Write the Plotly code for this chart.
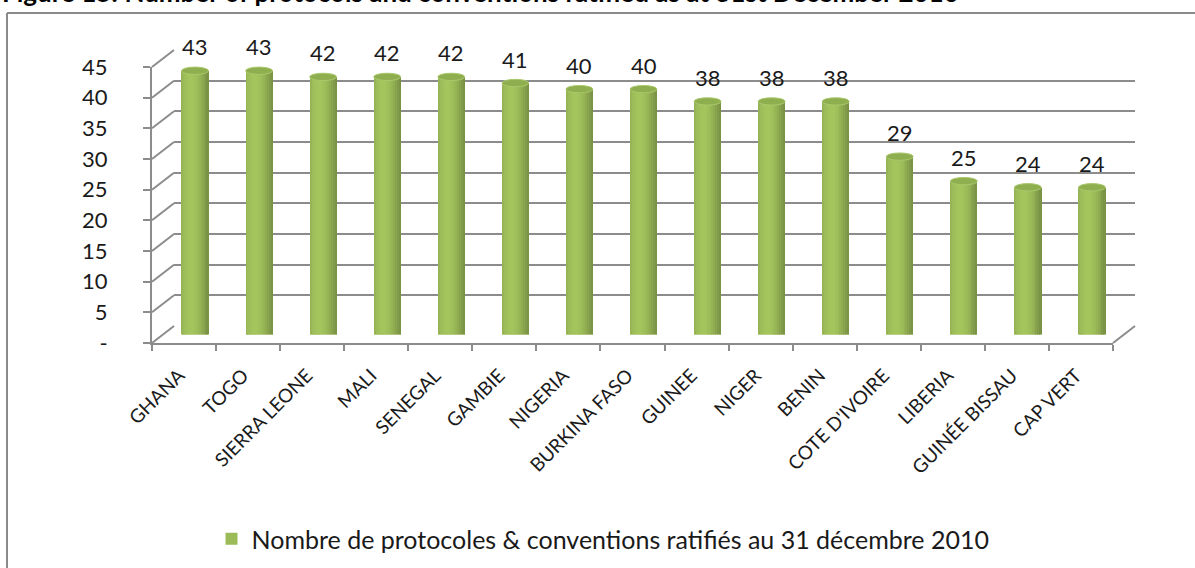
import math
import plotly.graph_objects as go

# ---- data ----
countries = ["GHANA", "TOGO", "SIERRA LEONE", "MALI", "SENEGAL", "GAMBIE", "NIGERIA",
             "BURKINA FASO", "GUINEE", "NIGER", "BENIN", "COTE D'IVOIRE", "LIBERIA",
             "GUINÉE BISSAU", "CAP VERT"]
ratified = [43, 43, 42, 42, 42, 41, 40, 40, 38, 38, 38, 29, 25, 24, 24]
y_ticks = [0, 5, 10, 15, 20, 25, 30, 35, 40, 45]
y_tick_text = ["-", "5", "10", "15", "20", "25", "30", "35", "40", "45"]
series_name = "Nombre de protocoles & conventions ratifiés au 31 décembre 2010"
title_text = "Figure 15: Number of protocols and conventions ratified as at 31st December 2010"

# ---- layout geometry (pixels) ----
W, H = 1195, 568
FX0, FX1 = 152, 1113          # front plane, horizontal extent
FY0, FYT = 343, 67            # front plane, y of 0 and of top value
DX, DY = 22, -17              # depth offset to the back wall
YMAX = 45
FONT = "Lato"
GRID = "#8c8c8c"
BASE_GREEN = (158, 190, 90)


def px(x):
    return x / W


def py(y):
    return 1 - y / H


def plane(frac):
    """Domains of a plane placed at a fraction of the depth."""
    x0, x1 = FX0 + DX * frac, FX1 + DX * frac
    y0, yt = FY0 + DY * frac, FYT + DY * frac
    return [px(x0), px(x1)], [py(y0), py(yt)]


idx = list(range(len(countries)))
fig = go.Figure()

# back wall: horizontal grid lines
bx, by = plane(1.0)
fig.add_trace(go.Scatter(x=idx, y=ratified, mode="markers", marker=dict(opacity=0),
                         showlegend=False, hoverinfo="skip", xaxis="x", yaxis="y"))

# front axes: tick marks and labels
fx, fy = plane(0.0)
fig.add_trace(go.Scatter(x=countries, y=ratified, mode="markers", marker=dict(opacity=0),
                         showlegend=False, hoverinfo="skip", xaxis="x2", yaxis="y2"))

# cylinders at mid depth
mx, my = plane(0.5)
BAR_W = 0.42
EH = 0.6                      # half height of the cylinder ends (data units)
N_STRIPS = 14
sw = BAR_W / N_STRIPS

fig.add_trace(go.Bar(x=idx, y=ratified, width=BAR_W, name=series_name,
                     marker=dict(color="rgb(155,187,89)", line=dict(width=0)),
                     xaxis="x3", yaxis="y3", hoverinfo="skip"))


def shade(u):
    f = 0.80 + 0.24 * math.cos((u + 0.3) * math.pi / 2.3)
    r, g, b = (min(255, int(c * f)) for c in BASE_GREEN)
    return f"rgb({r},{g},{b})"


for k in range(N_STRIPS):
    u = -1 + (2 * k + 1) / N_STRIPS
    d = EH * math.sqrt(max(0.0, 1 - u * u))
    fig.add_trace(go.Bar(
        x=idx, y=[v + d for v in ratified], base=[-d] * len(ratified),
        width=sw * 1.15, offset=-BAR_W / 2 + k * sw - sw * 0.05,
        marker=dict(color=shade(u), line=dict(width=0)),
        showlegend=False, hoverinfo="skip", xaxis="x3", yaxis="y3"))

shapes = []
annotations = []
# top faces and value labels
for i, v in zip(idx, ratified):
    shapes.append(dict(type="circle", xref="x3", yref="y3",
                       x0=i - BAR_W / 2, x1=i + BAR_W / 2, y0=v - EH, y1=v + EH,
                       fillcolor="#8fae50", line=dict(color="#a9c96b", width=1),
                       layer="above"))
    annotations.append(dict(xref="x3", yref="y3", x=i, y=v, text=str(v),
                            showarrow=False, yshift=24, yanchor="middle",
                            font=dict(family=FONT, size=22, color="#1a1a1a")))

# side wall diagonals for every grid value, and the floor's right edge
for t in y_ticks:
    yf = FY0 - (FY0 - FYT) * t / YMAX
    shapes.append(dict(type="line", xref="paper", yref="paper",
                       x0=px(FX0), y0=py(yf), x1=px(FX0 + DX), y1=py(yf + DY),
                       line=dict(color=GRID, width=2)))
shapes.append(dict(type="line", xref="paper", yref="paper",
                   x0=px(FX1), y0=py(FY0), x1=px(FX1 + DX), y1=py(FY0 + DY),
                   line=dict(color=GRID, width=2)))

# outer frame (top and left edges inside the page)
shapes.append(dict(type="line", xref="paper", yref="paper",
                   x0=px(7), x1=1.0, y0=py(13), y1=py(13),
                   line=dict(color="#8a8a8a", width=2)))
shapes.append(dict(type="line", xref="paper", yref="paper",
                   x0=px(7), x1=px(7), y0=py(13), y1=0.0,
                   line=dict(color="#8a8a8a", width=2)))

annotations.append(dict(xref="paper", yref="paper", x=px(0), y=py(10),
                        xanchor="left", yanchor="bottom", showarrow=False,
                        text="<b>" + title_text + "</b>",
                        font=dict(family=FONT, size=26, color="#000000")))

fig.update_layout(
    width=W, height=H,
    margin=dict(l=0, r=0, t=0, b=0, autoexpand=False),
    paper_bgcolor="white", plot_bgcolor="rgba(0,0,0,0)",
    barmode="overlay", bargap=0,
    font=dict(family=FONT, color="#1a1a1a"),
    showlegend=True,
    legend=dict(orientation="h", x=px(603), xanchor="center", y=py(539), yanchor="middle",
                font=dict(family=FONT, size=25, color="#1a1a1a"),
                bgcolor="rgba(0,0,0,0)", itemclick=False),
    shapes=shapes, annotations=annotations,
    xaxis=dict(domain=bx, anchor="y", range=[-0.5, len(countries) - 0.5],
               showgrid=False, showticklabels=False, zeroline=False, showline=False,
               fixedrange=True, automargin=False),
    yaxis=dict(domain=by, anchor="x", range=[0, YMAX], tickvals=y_ticks,
               showgrid=True, gridcolor=GRID, gridwidth=2, showticklabels=False,
               zeroline=False, showline=False, fixedrange=True, automargin=False),
    xaxis2=dict(domain=fx, anchor="y2", type="category", categoryarray=countries,
                categoryorder="array", range=[-0.5, len(countries) - 0.5],
                tickson="boundaries", ticks="outside", ticklen=6, tickcolor=GRID,
                tickwidth=2, showline=True, linecolor=GRID, linewidth=2,
                showgrid=False, tickangle=-45, ticklabelstandoff=12, ticklabelshift=-5,
                tickfont=dict(family=FONT, size=19, color="#1a1a1a"), fixedrange=True,
                automargin=False),
    yaxis2=dict(domain=fy, anchor="x2", range=[0, YMAX], tickvals=y_ticks,
                ticktext=y_tick_text, ticks="outside", ticklen=7, tickcolor=GRID,
                tickwidth=2, showline=True, linecolor=GRID, linewidth=2,
                showgrid=False, zeroline=False, ticklabelstandoff=31,
                tickfont=dict(family=FONT, size=22, color="#1a1a1a"), fixedrange=True,
                automargin=False),
    xaxis3=dict(domain=mx, anchor="y3", range=[-0.5, len(countries) - 0.5],
                visible=False, fixedrange=True, automargin=False),
    yaxis3=dict(domain=my, anchor="x3", range=[0, YMAX], visible=False, fixedrange=True,
                automargin=False),
)

fig.write_html("out.html")
